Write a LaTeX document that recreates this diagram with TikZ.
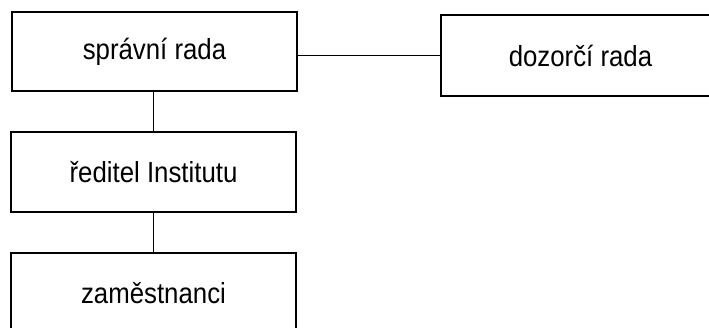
\documentclass[tikz,border=0pt]{standalone}
\usepackage{fontspec}
\setmainfont{Liberation Sans}
\newfontfamily\narrowf[FakeStretch=0.89]{Liberation Sans}
\begin{document}
\begin{tikzpicture}[x=1pt,y=-1pt,
  orgbox/.style={draw, line width=1.1pt, inner sep=0pt, font=\narrowf\fontsize{29}{34}\selectfont},
  conn/.style={draw, line width=1pt}]
\useasboundingbox (0,0) rectangle (709,327);
\clip (0,0) rectangle (709,327);
\node[orgbox, minimum width=285pt, minimum height=79pt] (A) at (154.5,51.5) {správní rada};
\node[orgbox, minimum width=279pt, minimum height=81pt] (B) at (580.5,55.5) {dozorčí rada};
\node[orgbox, minimum width=285pt, minimum height=80pt] (C) at (153.5,172) {ředitel Institutu};
\node[orgbox, minimum width=285pt, minimum height=80pt] (D) at (153.5,293) {zaměstnanci};
\draw[conn] (A.south -| C.north) -- (C.north);
\draw[conn] (C.south) -- (D.north);
\draw[conn] (B.west -| A.east) -- (B.west);
\end{tikzpicture}
\end{document}
